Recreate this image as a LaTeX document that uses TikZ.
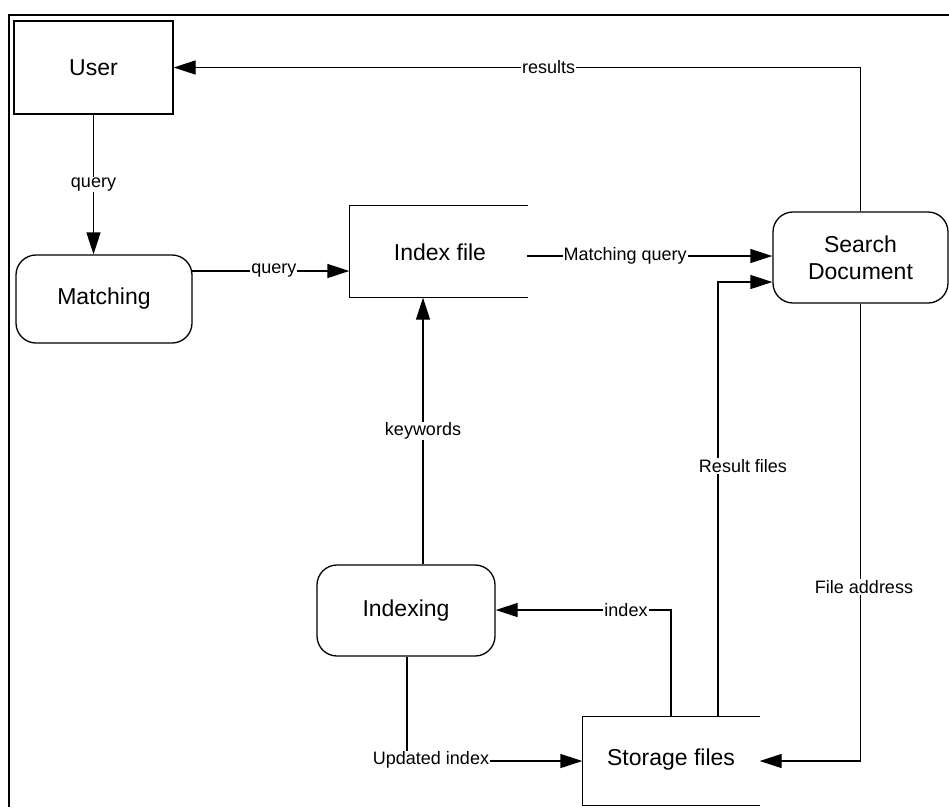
\documentclass[tikz,border=0pt]{standalone}
\usepackage{fontspec}
\setmainfont{Liberation Sans}
\usetikzlibrary{arrows.meta,calc}
\begin{document}
\begin{tikzpicture}[x=1pt,y=-1pt,
  line width=1.3pt,
  box/.style={draw,minimum width=#1,inner sep=0pt,font=\fontsize{23}{27}\selectfont,align=center},
  rbox/.style={draw,rounded corners=20pt,inner sep=0pt,font=\fontsize{23}{27}\selectfont,align=center},
  obox/.style={inner sep=0pt,font=\fontsize{23}{27}\selectfont,align=center},
  lbl/.style={fill=white,inner sep=1pt,font=\fontsize{18}{20}\selectfont},
  arr/.style={-{Triangle[length=22pt,width=14pt]}}]
\useasboundingbox (0,0) rectangle (949,807);
% frame (top and left)
\draw[line width=1.6pt] (949,15) -- (9,15) -- (9,807);
% nodes
\node[box=159pt,minimum height=93pt] (user) at (93.5,67.5) {User};
\node[rbox,minimum width=176pt,minimum height=88pt] (match) at (104,299) {Matching};
\node[obox,minimum width=177pt,minimum height=91pt] (idx) at (438.5,251.5) {};
\node[font=\fontsize{23}{27}\selectfont] (idxt) at (440,252) {Index file};
\draw (idx.north east) -- (idx.north west) -- (idx.south west) -- (idx.south east);
\node[rbox,minimum width=175pt,minimum height=91pt] (search) at (860.5,257.5) {Search\\Document};
\node[rbox,minimum width=178pt,minimum height=91pt] (indexing) at (406,610.5) {Indexing};
\node[obox,minimum width=176pt,minimum height=88pt] (store) at (671,761) {};
\node[font=\fontsize{23}{27}\selectfont] (storet) at (671,760) {Storage files};
\draw (store.north east) -- (store.north west) -- (store.south west) -- (store.south east);
% coordinates
\coordinate (qa) at (192,271);
\coordinate (mq) at (527,256);
\coordinate (rf) at (718,282);
\coordinate (ix) at (671,610);
\coordinate (kw) at (423,0);
\coordinate (ui) at (407,0);
\coordinate (fa) at (862,760);
% connectors
\draw[arr] (user.south) -- (user.south |- match.north) node[lbl,pos=0.5] {query};
\draw[arr] (qa) -- (qa -| idx.west) node[lbl,pos=0.52] {query};
\draw[arr] (mq) -- (mq -| search.west) node[lbl,pos=0.4] {Matching query};
\draw[arr] (search.north) |- (user.east) node[lbl,pos=0.727] {results};
\draw[arr] (rf |- store.north) -- (rf) -- (rf -| search.west);
\node[lbl] (rflbl) at (743,466) {Result files};
\draw[arr] (search.south) |- (store.east);
\node[lbl] (falbl) at (864,587) {File address};
\draw[arr] (ix |- store.north) -- (ix) -- (ix -| indexing.east);
\node[lbl] (ixlbl) at (626,610) {index};
\draw[arr] (kw |- indexing.north) -- (kw |- idx.south) node[lbl,pos=0.5] {keywords};
\draw[arr] (ui |- indexing.south) |- (store.west);
\node[lbl] (uilbl) at (431,760) {Updated index};
\end{tikzpicture}
\end{document}
